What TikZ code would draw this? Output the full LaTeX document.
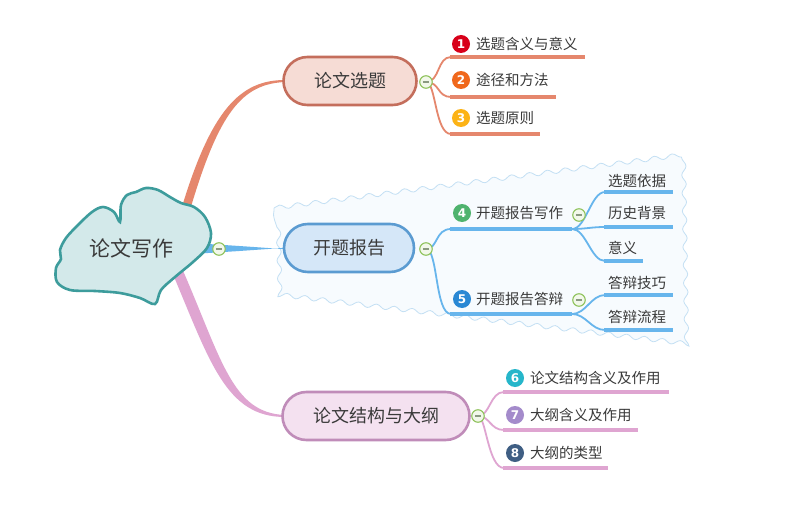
\documentclass[tikz,border=0pt]{standalone}
\usepackage{fontspec}
\setmainfont{Noto Sans CJK SC}
\newfontfamily\numfont{DejaVu Sans}
\usetikzlibrary{decorations.pathmorphing}
\definecolor{ofill}{HTML}{F6DCD5}
\definecolor{odraw}{HTML}{C46E5C}
\definecolor{oline}{HTML}{E5876D}
\definecolor{bfill}{HTML}{D5E7F8}
\definecolor{bdraw}{HTML}{5B9BD1}
\definecolor{bline}{HTML}{67B5EC}
\definecolor{pfill}{HTML}{F4E1F0}
\definecolor{pdraw}{HTML}{C08CB9}
\definecolor{pline}{HTML}{DFA5D1}
\definecolor{cfill}{HTML}{D3E9EA}
\definecolor{cdraw}{HTML}{3D9C9C}
\definecolor{rfill}{HTML}{F7FBFE}
\definecolor{rdraw}{HTML}{C4E0F4}
\definecolor{txt}{HTML}{3A3A3A}
\definecolor{kdraw}{HTML}{8EC25A}
\definecolor{kfill}{HTML}{F2F8EA}
\definecolor{kmin}{HTML}{8A9A80}
\definecolor{ca}{HTML}{D8001A}
\definecolor{cb}{HTML}{F0681C}
\definecolor{cc}{HTML}{FCB316}
\definecolor{cd}{HTML}{4FB36E}
\definecolor{ce}{HTML}{2A88D4}
\definecolor{cf}{HTML}{26B6CA}
\definecolor{cg}{HTML}{A48BCB}
\definecolor{ch}{HTML}{3F5E83}
\begin{document}
\begin{tikzpicture}[x=1pt,y=-1pt,
  pill/.style={rectangle, rounded corners=24pt, minimum height=48pt, line width=2.6pt, text=txt, font=\fontsize{18}{20}\selectfont, inner sep=0pt},
  ct/.style={anchor=west, text=txt, font=\fontsize{14.5}{16}\selectfont, inner sep=0pt},
  num/.style={circle, minimum size=18pt, inner sep=0pt, text=white, font=\numfont\bfseries\fontsize{12}{13}\selectfont},
  coll/.style={circle, minimum size=12.5pt, inner sep=0pt, draw=kdraw, fill=kfill, line width=1.1pt,
    path picture={\draw[kmin, line width=1.3pt] ([xshift=-3.2pt]path picture bounding box.center) -- ([xshift=3.2pt]path picture bounding box.center);}},
  oconn/.style={draw=oline, line width=1.8pt},
  bconn/.style={draw=bline, line width=1.8pt},
  pconn/.style={draw=pline, line width=1.8pt},
  ounder/.style={draw=oline, line width=4pt},
  bunder/.style={draw=bline, line width=4pt},
  punder/.style={draw=pline, line width=4pt}
]
\useasboundingbox (0,0) rectangle (800,516);
\fill[white] (0,0) rectangle (800,516);

% boundary region
\draw[decorate, decoration={snake, amplitude=2.2pt, segment length=18pt}, fill=rfill, draw=rdraw, line width=0.8pt]
  (274,208) -- (681,155) -- (684,342) -- (276,293) -- cycle;

% anchor coordinates
\coordinate (r1) at (181,210); \coordinate (r1b) at (190,210);
\coordinate (r3) at (172,272); \coordinate (r3b) at (181,266);
\coordinate (r2) at (200,243.5); \coordinate (r2b) at (200,253.5);
\coordinate (t1w) at (285,81);
\coordinate (t2w) at (286,248.5);
\coordinate (t3w) at (285,416);
\coordinate (k1p) at (426,82);
\coordinate (k2p) at (426,249);
\coordinate (k3p) at (478,416);

% main tapered connectors
\fill[oline] (r1) .. controls (211,110) and (240,80) .. ([yshift=1pt]t1w) -- ([yshift=-1pt]t1w) .. controls (242,84) and (219,112) .. (r1b) -- cycle;
\fill[pline] (r3) .. controls (210,362) and (226,417) .. ([yshift=-1pt]t3w) -- ([yshift=1pt]t3w) .. controls (232,413) and (222,360) .. (r3b) -- cycle;
\fill[bline] (r2) .. controls (240,246) .. ([yshift=-0.8pt]t2w) -- ([yshift=0.8pt]t2w) .. controls (240,251) .. (r2b) -- cycle;

% ---------- child connector coordinates
\coordinate (a1s) at (450,57);  \coordinate (a1e) at (585,57);
\coordinate (a2s) at (450,97);  \coordinate (a2e) at (556,97);
\coordinate (a3s) at (450,134); \coordinate (a3e) at (540,134);
\coordinate (b4s) at (450,229); \coordinate (b4e) at (572,229);
\coordinate (b5s) at (450,314); \coordinate (b5e) at (572,314);
\coordinate (g1s) at (604,192); \coordinate (g1e) at (673,192);
\coordinate (g2s) at (604,227); \coordinate (g2e) at (673,227);
\coordinate (g3s) at (604,261); \coordinate (g3e) at (643,261);
\coordinate (g4s) at (604,295); \coordinate (g4e) at (673,295);
\coordinate (g5s) at (604,330); \coordinate (g5e) at (673,330);
\coordinate (c6s) at (503,392); \coordinate (c6e) at (669,392);
\coordinate (c7s) at (503,430); \coordinate (c7e) at (638,430);
\coordinate (c8s) at (503,468); \coordinate (c8e) at (608,468);

\draw[ounder] (a1s) -- (a1e);
\draw[ounder] (a2s) -- (a2e);
\draw[ounder] (a3s) -- (a3e);
\draw[oconn] (k1p) .. controls +(14,0) and +(-14,0) .. ([xshift=1pt]a1s);
\draw[oconn] (k1p) .. controls +(14,0) and +(-14,0) .. ([xshift=1pt]a2s);
\draw[oconn] (k1p) .. controls +(10,0) and +(-16,0) .. ([xshift=1pt]a3s);

\draw[bunder] (b4s) -- (b4e);
\draw[bunder] (b5s) -- (b5e);
\draw[bconn] (k2p) .. controls +(12,0) and +(-16,0) .. ([xshift=1pt]b4s);
\draw[bconn] (k2p) .. controls +(12,0) and +(-16,0) .. ([xshift=1pt]b5s);
\draw[bunder] (g1s) -- (g1e);
\draw[bunder] (g2s) -- (g2e);
\draw[bunder] (g3s) -- (g3e);
\draw[bunder] (g4s) -- (g4e);
\draw[bunder] (g5s) -- (g5e);
\draw[bconn] (b4e) .. controls +(14,0) and +(-14,0) .. ([xshift=1pt]g1s);
\draw[bconn] (b4e) .. controls +(14,0) and +(-14,0) .. ([xshift=1pt]g2s);
\draw[bconn] (b4e) .. controls +(14,0) and +(-14,0) .. ([xshift=1pt]g3s);
\draw[bconn] (b5e) .. controls +(14,0) and +(-14,0) .. ([xshift=1pt]g4s);
\draw[bconn] (b5e) .. controls +(14,0) and +(-14,0) .. ([xshift=1pt]g5s);

\draw[punder] (c6s) -- (c6e);
\draw[punder] (c7s) -- (c7e);
\draw[punder] (c8s) -- (c8e);
\draw[pconn] (k3p) .. controls +(12,0) and +(-14,0) .. ([xshift=1pt]c6s);
\draw[pconn] (k3p) .. controls +(12,0) and +(-14,0) .. ([xshift=1pt]c7s);
\draw[pconn] (k3p) .. controls +(8,0) and +(-16,0) .. ([xshift=1pt]c8s);

% root cloud
\draw[fill=cfill, draw=cdraw, line width=2.6pt]
  plot[smooth cycle, tension=0.55] coordinates {
  (120,222) (121,205) (127,195) (136,192) (146,188) (158,190) (170,197)
  (181,203) (194,207) (205,217) (211,233) (207,248) (193,262) (175,277)
  (161,290) (155,304) (140,298) (120,293) (95,291) (70,290) (57,282)
  (56,268) (61,259) (60,250) (66,238) (78,225) (92,212) (103,207) (114,212)};
\node[text=txt, font=\fontsize{21}{24}\selectfont, inner sep=0pt] (root) at (131,248) {论文写作};
\node[coll] (k0) at (219,249) {};

% main topic nodes
\node[pill, fill=ofill, draw=odraw, minimum width=133pt] (t1) at (350,81) {论文选题};
\node[pill, fill=bfill, draw=bdraw, minimum width=130pt] (t2) at (349,248) {开题报告};
\node[pill, fill=pfill, draw=pdraw, minimum width=187pt] (t3) at (376,416) {论文结构与大纲};

% collapse markers
\node[coll] (k1) at (k1p) {};
\node[coll] (k2) at (k2p) {};
\node[coll] (k3) at (k3p) {};
\node[coll] (k4) at (579,215) {};
\node[coll] (k5) at (579,300) {};

% labels
\node[num, fill=ca] (n1) at (461,44) {1};
\node[ct] (l1) at (476,44) {选题含义与意义};
\node[num, fill=cb] (n2) at (461,80) {2};
\node[ct] (l2) at (476,80) {途径和方法};
\node[num, fill=cc] (n3) at (461,118) {3};
\node[ct] (l3) at (476,118) {选题原则};
\node[num, fill=cd] (n4) at (462,213) {4};
\node[ct] (l4) at (476,213) {开题报告写作};
\node[num, fill=ce] (n5) at (462,299) {5};
\node[ct] (l5) at (476,299) {开题报告答辩};
\node[ct] (m1) at (608,181) {选题依据};
\node[ct] (m2) at (608,213) {历史背景};
\node[ct] (m3) at (608,248) {意义};
\node[ct] (m4) at (608,283) {答辩技巧};
\node[ct] (m5) at (608,317) {答辩流程};
\node[num, fill=cf] (n6) at (515,378) {6};
\node[ct] (l6) at (530,378) {论文结构含义及作用};
\node[num, fill=cg] (n7) at (515,415) {7};
\node[ct] (l7) at (530,415) {大纲含义及作用};
\node[num, fill=ch] (n8) at (515,453) {8};
\node[ct] (l8) at (530,453) {大纲的类型};
\end{tikzpicture}
\end{document}
